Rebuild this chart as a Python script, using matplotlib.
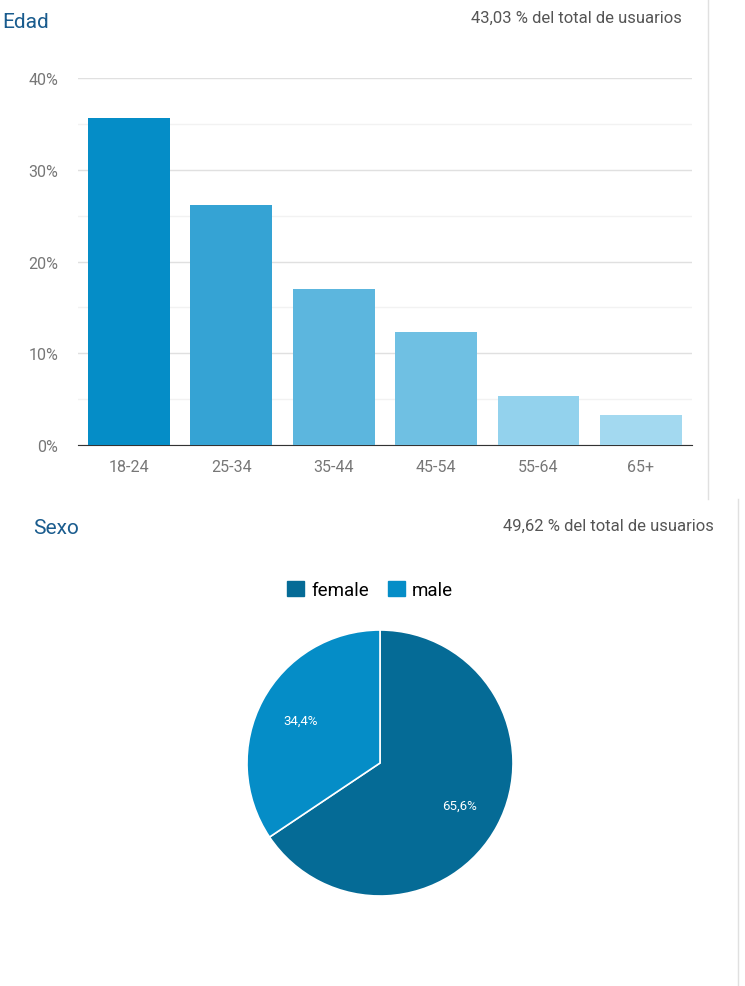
import matplotlib.pyplot as plt
from matplotlib.lines import Line2D
from matplotlib.patches import Patch

plt.rcParams['font.family'] = 'Roboto'

age_groups = ['18-24', '25-34', '35-44', '45-54', '55-64', '65+']
age_share = [35.6, 26.2, 17.0, 12.3, 5.3, 3.3]
age_colors = ['#058dc7', '#35a3d4', '#5cb6de', '#6fc0e3', '#93d2ed', '#a3d9f0']
age_ticks = [0, 10, 20, 30, 40]

sex_labels = ['female', 'male']
sex_share = [65.6, 34.4]
sex_colors = ['#056b96', '#058dc7']

W, H = 745, 987
fig = plt.figure(figsize=(W / 100, H / 100), dpi=100)

def box(x0, y0, x1, y1):
    return [x0 / W, 1 - y1 / H, (x1 - x0) / W, (y1 - y0) / H]

# --- Age bar chart ---
ax = fig.add_axes(box(77.8, 79, 692, 446))
ax.bar(range(len(age_groups)), age_share, width=0.8, color=age_colors, zorder=3)
ax.set_xlim(-0.5, len(age_groups) - 0.5)
ax.set_ylim(0, 40)
ax.set_yticks(age_ticks)
ax.set_yticklabels([f'{t}%' for t in age_ticks])
ax.set_yticks([5, 15, 25, 35], minor=True)
ax.set_xticks(range(len(age_groups)))
ax.set_xticklabels(age_groups)
ax.grid(axis='y', which='major', color='#e0e0e0', lw=1, zorder=0)
ax.grid(axis='y', which='minor', color='#f2f2f2', lw=1, zorder=0)
for s in ['top', 'right', 'left']:
    ax.spines[s].set_visible(False)
ax.spines['bottom'].set_color('#333333')
ax.tick_params(axis='both', which='both', length=0, colors='#777777', labelsize=11.5, pad=10)
ax.tick_params(axis='y', pad=14)

fig.text(2 / W, 1 - 22 / H, 'Edad', color='#1a5c8e', fontsize=15, va='center')
fig.text(682 / W, 1 - 18 / H, '43,03 % del total de usuarios', color='#555555',
         fontsize=12, ha='right', va='center')

# --- Sex pie chart ---
r = 133
pax = fig.add_axes(box(380 - r, 764 - r, 380 + r, 764 + r))
pax.pie(sex_share, colors=sex_colors, startangle=90, counterclock=False,
        wedgeprops=dict(edgecolor='white', linewidth=1.2),
        autopct=lambda p: f'{p:.1f}%'.replace('.', ','), pctdistance=0.68,
        textprops=dict(color='white', fontsize=9.5))
pax.set_xlim(-1, 1)
pax.set_ylim(-1, 1)
pax.set_aspect('equal')

fig.text(33 / W, 1 - 529 / H, 'Sexo', color='#1a5c8e', fontsize=15, va='center')
fig.text(714 / W, 1 - 526 / H, '49,62 % del total de usuarios', color='#555555',
         fontsize=12, ha='right', va='center')

handles = [Patch(color=c, label=l) for c, l in zip(sex_colors, sex_labels)]
fig.legend(handles=handles, loc='center', bbox_to_anchor=(370 / W, 1 - 591 / H),
           ncol=2, frameon=False, fontsize=13.5, handlelength=0.9, handleheight=0.9,
           handletextpad=0.4, columnspacing=1.0)

# divider lines
fig.add_artist(Line2D([708 / W, 708 / W], [1, 1 - 500 / H], color='#e0e0e0', lw=1))
fig.add_artist(Line2D([738 / W, 738 / W], [1 - 500 / H, 0], color='#e0e0e0', lw=1))

fig.savefig('out.png', dpi=100)
